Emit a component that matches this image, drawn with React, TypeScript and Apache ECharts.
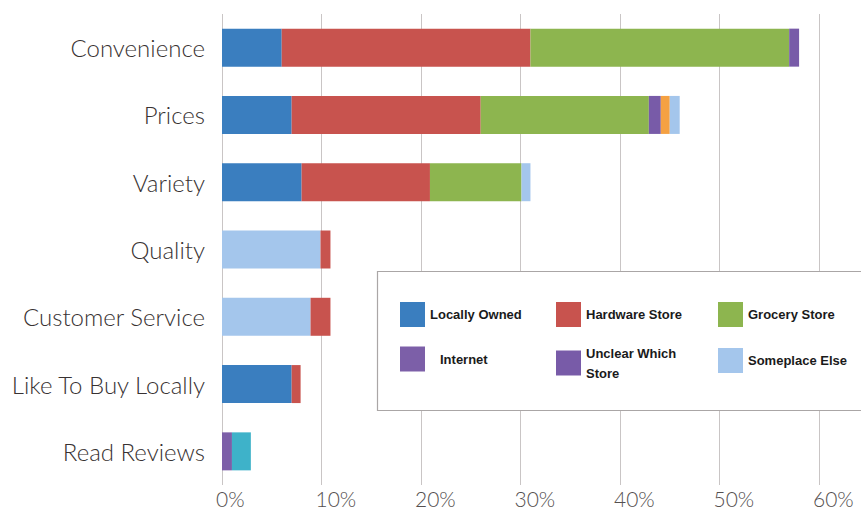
import React, { useEffect, useRef } from "react";
import * as echarts from "echarts";

const categories = [
  "Convenience",
  "Prices",
  "Variety",
  "Quality",
  "Customer Service",
  "Like To Buy Locally",
  "Read Reviews",
];

// values in percent, in stacking order (left to right)
const someplaceElseLead = [0, 0, 0, 9.9, 8.9, 0, 0];
const locallyOwned = [6.0, 7.0, 8.0, 0, 0, 7.0, 0];
const internet = [0, 0, 0, 0, 0, 0, 1.0];
const hardwareStore = [25.0, 19.0, 12.9, 1.0, 2.0, 0.9, 0];
const groceryStore = [26.0, 16.9, 9.2, 0, 0, 0, 0];
const unclearWhichStore = [1.0, 1.2, 0, 0, 0, 0, 0];
const otherOrange = [0, 0.9, 0, 0, 0, 0, 0];
const someplaceElseTail = [0, 1.0, 0.9, 0, 0, 0, 0];
const otherTeal = [0, 0, 0, 0, 0, 0, 1.9];

const xTicks = [0, 10, 20, 30, 40, 50, 60];

const COLORS = {
  locally: "#3a7ebf",
  hardware: "#c8534e",
  grocery: "#8db54f",
  internet: "#7c5fa8",
  unclear: "#785ba8",
  someplace: "#a4c6ec",
  orange: "#f5a142",
  teal: "#3eb2c9",
};

export default function App() {
  const ref = useRef<HTMLDivElement>(null);
  useEffect(() => {
    if (!ref.current) return;
    const chart = echarts.init(ref.current, undefined, { renderer: "svg" });
    const barW = 38;
    const mk = (name: string, data: number[], color: string) => ({
      name,
      type: "bar",
      stack: "total",
      data,
      barWidth: barW,
      itemStyle: { color },
      emphasis: { disabled: true },
    });
    const legendText = {
      fontFamily: "Liberation Sans",
      fontWeight: "bold",
      fontSize: 13,
      color: "#1a1a1a",
      lineHeight: 20,
    };
    const legendCfg = (name: string, left: number, top: number, extra: any = {}) => ({
      data: [name],
      left,
      top,
      orient: "horizontal",
      itemWidth: 25,
      itemHeight: 25,
      icon: "rect",
      selectedMode: false,
      padding: 0,
      z: 10,
      textStyle: { ...legendText, ...(extra.textStyle || {}) },
      formatter: extra.formatter,
    });
    chart.setOption({
      animation: false,
      backgroundColor: "#ffffff",
      grid: { left: 222, right: 42, top: 14, bottom: 30, containLabel: false },
      xAxis: {
        type: "value",
        min: 0,
        max: 60,
        interval: 10,
        axisLine: { show: false },
        axisTick: { show: false },
        splitLine: { show: true, lineStyle: { color: "#c9c5c5", width: 1 } },
        axisLabel: {
          formatter: (v: number) => (xTicks.includes(v) ? v + "%" : ""),
          fontFamily: "Lato",
          fontWeight: 300,
          fontSize: 21,
          color: "#555050",
          margin: 3,
          align: "left",
          padding: [0, 0, 0, -6],
        },
      },
      yAxis: {
        type: "category",
        data: categories,
        inverse: true,
        axisLine: { show: false },
        axisTick: { show: false },
        axisLabel: {
          fontFamily: "Lato",
          fontWeight: 300,
          fontSize: 24,
          color: "#383232",
          margin: 17,
        },
      },
      legend: [
        legendCfg("Locally Owned", 400, 302),
        legendCfg("Hardware Store", 556, 302),
        legendCfg("Grocery Store", 718, 302),
        legendCfg("Internet", 400, 346, { textStyle: { padding: [0, 0, 6, 10] } }),
        legendCfg("Unclear Which Store", 556, 343, {
          formatter: (n: string) => (n === "Unclear Which Store" ? "Unclear Which\nStore" : n),
        }),
        legendCfg("Someplace Else", 718, 348),
      ],
      graphic: [
        {
          type: "rect",
          z: 5,
          shape: { x: 377.5, y: 271.5, width: 500, height: 139 },
          style: { fill: "#ffffff", stroke: "#aaa6a6", lineWidth: 1.2 },
        },
      ],
      series: [
        mk("Someplace Else", someplaceElseLead, COLORS.someplace),
        mk("Locally Owned", locallyOwned, COLORS.locally),
        mk("Internet", internet, COLORS.internet),
        mk("Hardware Store", hardwareStore, COLORS.hardware),
        mk("Grocery Store", groceryStore, COLORS.grocery),
        mk("Unclear Which Store", unclearWhichStore, COLORS.unclear),
        mk("Other", otherOrange, COLORS.orange),
        mk("Someplace Else", someplaceElseTail, COLORS.someplace),
        mk("Other Online", otherTeal, COLORS.teal),
      ],
    });
    return () => chart.dispose();
  }, []);
  return (
    <div
      ref={ref}
      style={{ position: "absolute", left: 0, top: 0, width: 861, height: 515 }}
    />
  );
}
